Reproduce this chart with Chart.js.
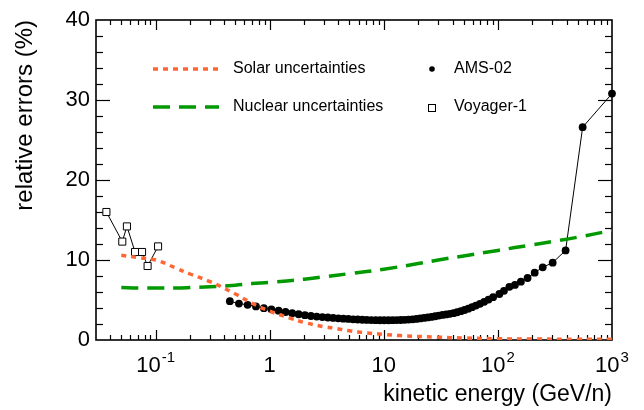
<!DOCTYPE html>
<html><head><meta charset="utf-8">
<script src="https://cdn.jsdelivr.net/npm/chart.js@4.4.1/dist/chart.umd.min.js"></script>
<style>html,body{margin:0;padding:0;background:#fff}</style>
</head><body>
<canvas id="c" width="644" height="410"></canvas>
<script>
const solarEnergy = [0.05,0.07,0.1,0.15,0.2,0.3,0.5,0.7,1,1.5,2,3,3.6,5,7,10,14,30,50,100,200,500,1000];
const solarError  = [10.6,10.3,10.0,9.0,8.25,7.3,5.75,4.6,3.6,2.75,2.2,1.65,1.5,1.15,0.9,0.7,0.55,0.35,0.25,0.15,0.12,0.1,0.1];

const nuclearEnergy = [0.05,0.07,0.1,0.15,0.2,0.3,0.5,0.7,1,2,3,5,10,20,30,50,100,200,300,500,1000];
const nuclearError  = [6.55,6.5,6.5,6.5,6.55,6.65,6.85,7.05,7.2,7.6,7.9,8.3,8.85,9.55,10.0,10.5,11.2,11.9,12.3,12.85,13.7];

const amsEnergy = [0.447,0.537,0.640,0.757,0.888,1.034,1.196,1.375,1.573,1.792,2.033,2.295,2.581,2.893,3.230,3.596,3.993,4.420,4.888,5.383,5.902,6.471,7.091,7.762,8.482,9.253,10.075,10.971,11.943,12.965,14.061,15.234,16.481,17.829,19.276,20.824,22.472,24.244,26.142,28.164,30.337,32.684,35.208,37.905,40.802,43.924,47.296,51.039,55.041,59.284,64.027,69.512,75.755,82.740,90.726,103,113,126,141,159,182,210,247,302,392,553,1000];
const amsError  = [4.85,4.55,4.4,4.2,3.98,3.83,3.67,3.5,3.35,3.22,3.1,3.0,2.93,2.87,2.81,2.76,2.71,2.67,2.63,2.59,2.56,2.53,2.51,2.49,2.48,2.47,2.47,2.47,2.48,2.49,2.5,2.52,2.55,2.58,2.63,2.7,2.76,2.82,2.89,2.97,3.05,3.13,3.2,3.27,3.35,3.47,3.6,3.75,3.92,4.1,4.3,4.52,4.77,5.05,5.35,5.75,6.15,6.65,6.88,7.29,7.75,8.42,9.08,9.67,11.2,26.6,30.8];

const voyagerEnergy = [0.037,0.051,0.056,0.066,0.076,0.085,0.105];
const voyagerError  = [16.0,12.3,14.2,11.0,11.0,9.25,11.7];

const xTickValues = [0.1,1,10,100,1000];
const xTickBase   = ['10','1','10','10','10'];
const xTickExp    = ['-1','','','2','3'];
const yTickValues = [0,10,20,30,40];

const FONT = '"Liberation Sans", Arial, Helvetica, sans-serif';
const toXY = (xs, ys) => xs.map((x, i) => ({x: x, y: ys[i]}));

const framePlugin = {
  id: 'frame',
  beforeDatasetsDraw(chart) {
    const {ctx, chartArea: a, scales: {x, y}} = chart;
    ctx.save();
    ctx.strokeStyle = '#000';
    const seg = (x1, y1, x2, y2) => { ctx.beginPath(); ctx.moveTo(x1, y1); ctx.lineTo(x2, y2); ctx.stroke(); };
    ctx.lineWidth = 1.2;
    for (let d = -2; d <= 3; d++) {
      for (let m = 1; m <= 9; m++) {
        const v = m * Math.pow(10, d);
        if (v <= x.min * 1.0001 || v >= x.max * 0.9999) continue;
        const px = Math.round(x.getPixelForValue(v)) + 0.5;
        const len = m === 1 ? 10 : 5;
        seg(px, a.bottom, px, a.bottom - len);
        seg(px, a.top, px, a.top + len);
      }
    }
    for (let v = y.min + 2; v < y.max; v += 2) {
      const py = Math.round(y.getPixelForValue(v)) + 0.5;
      const len = v % 10 === 0 ? 14 : 7;
      seg(a.left, py, a.left + len, py);
      seg(a.right, py, a.right - len, py);
    }
    ctx.lineWidth = 1.6;
    ctx.strokeRect(a.left, a.top, a.right - a.left, a.bottom - a.top);
    ctx.restore();
  },
  afterDraw(chart) {
    // x tick labels with true superscripts
    const {ctx, chartArea: a, scales: {x}} = chart;
    ctx.save();
    ctx.fillStyle = '#000';
    ctx.textBaseline = 'alphabetic';
    ctx.textAlign = 'left';
    const baseFont = '22px ' + FONT, expFont = '15px ' + FONT;
    xTickValues.forEach((v, i) => {
      const px = x.getPixelForValue(v);
      ctx.font = baseFont;
      const wb = ctx.measureText(xTickBase[i]).width;
      ctx.font = expFont;
      const we = xTickExp[i] ? ctx.measureText(xTickExp[i]).width + 1 : 0;
      const x0 = px - (wb + we) / 2;
      const by = a.bottom + 32;
      ctx.font = baseFont;
      ctx.fillText(xTickBase[i], x0, by);
      if (xTickExp[i]) {
        ctx.font = expFont;
        ctx.fillText(xTickExp[i], x0 + wb + 1, by - 10);
      }
    });
    ctx.restore();
  }
};

const legendPlugin = {
  id: 'innerLegend',
  afterDraw(chart) {
    const {ctx, chartArea: a} = chart;
    const ds = chart.data.datasets;
    const rows = [a.top + 49, a.top + 87];
    ctx.save();
    ctx.font = '16px ' + FONT;
    ctx.fillStyle = '#000';
    ctx.textBaseline = 'middle';
    ctx.textAlign = 'left';
    [0, 1].forEach(k => {
      const d = ds[k];
      ctx.strokeStyle = d.borderColor;
      ctx.lineWidth = d.borderWidth;
      ctx.setLineDash(d.borderDash);
      ctx.beginPath();
      ctx.moveTo(a.left + 57, rows[k]);
      ctx.lineTo(a.left + 123, rows[k]);
      ctx.stroke();
      ctx.setLineDash([]);
      ctx.fillText(d.label, a.left + 137, rows[k]);
    });
    ctx.fillStyle = '#000';
    ctx.beginPath();
    ctx.arc(a.left + 336, rows[0], 2.8, 0, Math.PI * 2);
    ctx.fill();
    ctx.fillText(ds[2].label, a.left + 358, rows[0]);
    ctx.strokeStyle = '#000';
    ctx.lineWidth = 1;
    ctx.strokeRect(a.left + 332.5, rows[1] - 2.5, 7, 7);
    ctx.fillText(ds[3].label, a.left + 358, rows[1]);
    ctx.restore();
  }
};

new Chart(document.getElementById('c'), {
  type: 'line',
  data: {
    datasets: [
      {label: 'Solar uncertainties', data: toXY(solarEnergy, solarError), borderColor: '#FF6633', borderWidth: 3.5, borderDash: [5, 5], pointRadius: 0, tension: 0.4, fill: false},
      {label: 'Nuclear uncertainties', data: toXY(nuclearEnergy, nuclearError), borderColor: '#009900', borderWidth: 3.5, borderDash: [17, 9], pointRadius: 0, tension: 0.4, fill: false},
      {label: 'AMS-02', data: toXY(amsEnergy, amsError), borderColor: '#000', borderWidth: 1, pointRadius: 3.9, pointBackgroundColor: '#000', pointBorderColor: '#000', pointBorderWidth: 0, tension: 0, clip: false},
      {label: 'Voyager-1', data: toXY(voyagerEnergy, voyagerError), borderColor: '#000', borderWidth: 1, pointStyle: 'rect', pointRadius: 5, pointBackgroundColor: '#fff', pointBorderColor: '#000', pointBorderWidth: 1, tension: 0}
    ]
  },
  options: {
    responsive: false,
    animation: false,
    devicePixelRatio: 1,
    layout: {padding: {left: 0, right: 32, top: 20, bottom: 0}},
    plugins: {legend: {display: false}, tooltip: {enabled: false}},
    scales: {
      x: {
        type: 'logarithmic', min: 0.03, max: 1000,
        grid: {display: false, drawTicks: false},
        border: {display: false},
        afterBuildTicks(s) { s.ticks = xTickValues.map(v => ({value: v})); },
        afterFit(s) { s.height = 70; },
        ticks: {display: false},
        title: {display: true, text: 'kinetic energy (GeV/n)', align: 'end', color: '#000', font: {family: FONT, size: 23}, padding: {top: 0, bottom: 2}}
      },
      y: {
        min: 0, max: 40,
        grid: {display: false, drawTicks: false},
        border: {display: false},
        afterBuildTicks(s) { s.ticks = yTickValues.map(v => ({value: v})); },
        afterFit(s) { s.width = 96; },
        ticks: {padding: 6, color: '#000', font: {family: FONT, size: 22}},
        title: {display: true, text: 'relative errors (%)', align: 'end', color: '#000', font: {family: FONT, size: 24}, padding: {top: 11, bottom: 0}}
      }
    }
  },
  plugins: [framePlugin, legendPlugin]
});
</script>
</body></html>
